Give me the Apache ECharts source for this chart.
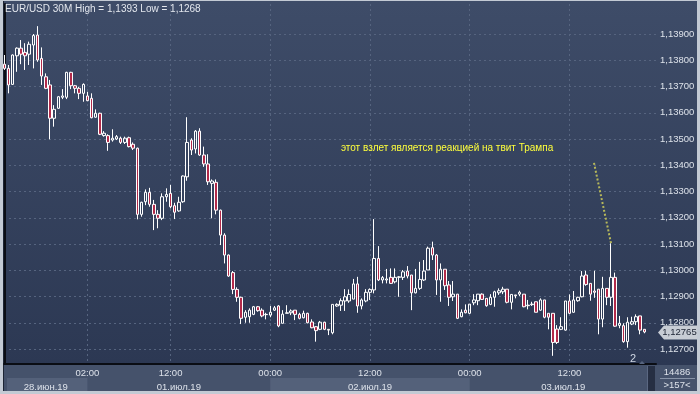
<!DOCTYPE html>
<html><head><meta charset="utf-8">
<script src="https://cdn.jsdelivr.net/npm/echarts@6/dist/echarts.min.js"></script>
<style>html,body{margin:0;padding:0;background:#c3cad4;} #c{width:700px;height:394px;}</style>
</head><body><div id="c"></div>
<script>
const titleText = 'EUR/USD 30M High = 1,1393 Low = 1,1268';
const opens = [1.13785,1.13769,1.13708,1.13817,1.13846,1.13830,1.13823,1.13858,1.13896,1.13807,
1.13737,1.13706,1.13579,1.13617,1.13659,1.13659,1.13754,1.13703,1.13693,1.13674,
1.13664,1.13655,1.13583,1.13598,1.13513,1.13513,1.13496,1.13500,1.13503,1.13487,
1.13505,1.13480,1.13465,1.13213,1.13261,1.13297,1.13251,1.13213,1.13198,1.13280,
1.13293,1.13246,1.13226,1.13261,1.13356,1.13496,1.13462,1.13530,1.13439,1.13405,
1.13331,1.13335,1.13229,1.13134,1.13058,1.12991,1.12927,1.12897,1.12821,1.12823,
1.12832,1.12861,1.12848,1.12831,1.12829,1.12848,1.12864,1.12798,1.12836,1.12838,
1.12848,1.12832,1.12819,1.12836,1.12803,1.12785,1.12775,1.12802,1.12775,1.12762,
1.12864,1.12867,1.12883,1.12883,1.12890,1.12948,1.12864,1.12883,1.12916,1.12925,
1.13045,1.12963,1.12963,1.12973,1.12956,1.12973,1.12973,1.12997,1.12982,1.12914,
1.12931,1.12963,1.13001,1.13086,1.13058,1.12963,1.13004,1.12944,1.12899,1.12909,
1.12823,1.12848,1.12836,1.12876,1.12884,1.12909,1.12893,1.12870,1.12897,1.12914,
1.12918,1.12928,1.12878,1.12906,1.12909,1.12909,1.12867,1.12869,1.12880,1.12848,
1.12887,1.12836,1.12836,1.12776,1.12775,1.12772,1.12883,1.12840,1.12884,1.12899,
1.12982,1.12950,1.12921,1.12928,1.12814,1.12931,1.12897,1.12973,1.12790,1.12789,
1.12728,1.12795,1.12804,1.12826,1.12775];
const closes = [1.13769,1.13706,1.13820,1.13846,1.13823,1.13817,1.13861,1.13894,1.13801,1.13740,
1.13693,1.13579,1.13613,1.13661,1.13664,1.13754,1.13703,1.13693,1.13674,1.13708,
1.13646,1.13581,1.13598,1.13518,1.13522,1.13487,1.13503,1.13509,1.13487,1.13503,
1.13471,1.13465,1.13213,1.13259,1.13297,1.13251,1.13213,1.13198,1.13280,1.13289,
1.13242,1.13221,1.13259,1.13359,1.13487,1.13458,1.13530,1.13439,1.13405,1.13337,
1.13340,1.13229,1.13134,1.13058,1.12978,1.12927,1.12897,1.12817,1.12840,1.12848,
1.12861,1.12846,1.12826,1.12832,1.12840,1.12857,1.12788,1.12833,1.12838,1.12845,
1.12832,1.12817,1.12836,1.12800,1.12781,1.12770,1.12802,1.12775,1.12772,1.12870,
1.12870,1.12884,1.12899,1.12908,1.12948,1.12864,1.12887,1.12916,1.12927,1.13045,
1.12963,1.12972,1.12967,1.12950,1.12973,1.12975,1.12994,1.12978,1.12914,1.12931,
1.12965,1.12997,1.13084,1.13058,1.12963,1.13004,1.12941,1.12897,1.12909,1.12817,
1.12840,1.12838,1.12871,1.12887,1.12909,1.12889,1.12865,1.12897,1.12918,1.12922,
1.12928,1.12878,1.12908,1.12903,1.12916,1.12861,1.12865,1.12871,1.12840,1.12887,
1.12821,1.12821,1.12725,1.12725,1.12785,1.12883,1.12836,1.12887,1.12897,1.12978,
1.12946,1.12909,1.12916,1.12814,1.12931,1.12897,1.12973,1.12787,1.12798,1.12728,
1.12802,1.12804,1.12823,1.12772,1.12765];
const lows = [1.13763,1.13674,1.13706,1.13756,1.13785,1.13763,1.13782,1.13769,1.13794,1.13706,
1.13690,1.13499,1.13547,1.13615,1.13652,1.13652,1.13690,1.13674,1.13652,1.13642,
1.13644,1.13579,1.13581,1.13515,1.13509,1.13455,1.13490,1.13496,1.13481,1.13481,
1.13468,1.13458,1.13194,1.13204,1.13248,1.13242,1.13153,1.13160,1.13191,1.13261,
1.13236,1.13195,1.13223,1.13257,1.13341,1.13439,1.13445,1.13436,1.13394,1.13325,
1.13198,1.13213,1.13096,1.13026,1.12975,1.12909,1.12880,1.12795,1.12800,1.12800,
1.12829,1.12842,1.12821,1.12813,1.12821,1.12845,1.12783,1.12798,1.12836,1.12829,
1.12810,1.12813,1.12817,1.12798,1.12779,1.12728,1.12772,1.12772,1.12753,1.12756,
1.12861,1.12845,1.12845,1.12876,1.12890,1.12838,1.12851,1.12878,1.12887,1.12912,
1.12959,1.12950,1.12950,1.12948,1.12950,1.12899,1.12963,1.12969,1.12848,1.12912,
1.12925,1.12959,1.13001,1.13039,1.12906,1.12880,1.12925,1.12864,1.12883,1.12814,
1.12821,1.12836,1.12833,1.12867,1.12867,1.12887,1.12861,1.12867,1.12861,1.12906,
1.12909,1.12874,1.12851,1.12893,1.12902,1.12859,1.12851,1.12864,1.12840,1.12846,
1.12817,1.12775,1.12674,1.12719,1.12772,1.12770,1.12833,1.12838,1.12880,1.12897,
1.12941,1.12884,1.12895,1.12756,1.12783,1.12867,1.12864,1.12785,1.12779,1.12724,
1.12705,1.12791,1.12791,1.12756,1.12760];
const highs = [1.13820,1.13782,1.13822,1.13849,1.13877,1.13865,1.13871,1.13900,1.13930,1.13849,
1.13750,1.13725,1.13629,1.13664,1.13690,1.13756,1.13756,1.13706,1.13699,1.13712,
1.13680,1.13674,1.13613,1.13600,1.13530,1.13518,1.13537,1.13515,1.13509,1.13509,
1.13509,1.13487,1.13467,1.13261,1.13308,1.13314,1.13268,1.13229,1.13293,1.13312,
1.13325,1.13257,1.13280,1.13361,1.13583,1.13503,1.13534,1.13541,1.13471,1.13442,
1.13346,1.13346,1.13231,1.13141,1.13060,1.12997,1.12935,1.12899,1.12848,1.12855,
1.12864,1.12864,1.12855,1.12838,1.12864,1.12864,1.12867,1.12848,1.12867,1.12851,
1.12848,1.12838,1.12846,1.12838,1.12813,1.12787,1.12807,1.12804,1.12776,1.12870,
1.12874,1.12893,1.12928,1.12927,1.12967,1.12975,1.12893,1.12928,1.12931,1.13195,
1.13092,1.12978,1.13005,1.13007,1.13007,1.12978,1.13001,1.13016,1.12982,1.13005,
1.13032,1.13039,1.13090,1.13109,1.13062,1.13026,1.13004,1.12959,1.12959,1.12909,
1.12851,1.12870,1.12871,1.12909,1.12909,1.12912,1.12893,1.12909,1.12922,1.12931,
1.12937,1.12928,1.12909,1.12906,1.12922,1.12909,1.12887,1.12880,1.12880,1.12893,
1.12887,1.12836,1.12836,1.12791,1.12821,1.12883,1.12908,1.12921,1.12899,1.12997,
1.12998,1.12950,1.12998,1.12928,1.12975,1.12931,1.13103,1.12991,1.12826,1.12798,
1.12821,1.12823,1.12832,1.12826,1.12775];
const priceTicks = [1.127, 1.128, 1.129, 1.130, 1.131, 1.132, 1.133, 1.134, 1.135, 1.136, 1.137, 1.138, 1.139];
const timeTickIdx = [20, 40, 64, 88, 112, 136];
const timeTickLabels = ['02:00', '12:00', '00:00', '12:00', '00:00', '12:00'];
const dayStart = [0, 20, 64, 112];
const dayEnd = [20, 64, 112, 157];
const dayLabels = ['28.июн.19', '01.июл.19', '02.июл.19', '03.июл.19'];
const annotationText = 'этот взлет является реакцией на твит Трампа';
const annotatedBar = 146;
const annotationAnchor = [81, 1.13466];
const annotationLineStart = [141.9, 1.13409];
const volumeLabel = '14486';
const barsLabel = '>157<';
const pageLabel = '2';

const fmt = v => v.toFixed(5).replace('.', ',');
const candleData = opens.map((o, i) => [i, o, closes[i], lows[i], highs[i]]);
const dayCenters = dayStart.map((s, i) => (s + dayEnd[i]) / 2);

const FONT = 'Liberation Sans';
const FS = 9.5;
const LBL = '#dde2ea';
const chart = echarts.init(document.getElementById('c'), null, {renderer: 'canvas'});
const X_MIN = -0.07, X_MAX = 156.82, Y_MIN = 1.126429, Y_MAX = 1.140143;

chart.setOption({
  animation: false,
  grid: {left: 4, top: 4, width: 652, height: 360},
  xAxis: [{
    type: 'value', min: X_MIN, max: X_MAX,
    axisLine: {show: true, onZero: false, lineStyle: {color: '#0a0d14', width: 2}},
    axisTick: {show: false, customValues: timeTickIdx},
    axisLabel: {customValues: timeTickIdx, color: LBL, fontFamily: FONT, fontSize: FS, margin: 4,
      formatter: v => timeTickLabels[timeTickIdx.indexOf(Math.round(v))] || ''},
    splitLine: {show: true, lineStyle: {color: '#56647f', type: [2, 3], width: 1}}
  }, {
    type: 'value', min: X_MIN, max: X_MAX, position: 'bottom', offset: 14,
    axisLine: {show: false}, axisTick: {show: false, customValues: dayCenters}, splitLine: {show: false},
    axisLabel: {customValues: dayCenters, color: LBL, fontFamily: FONT, fontSize: FS, margin: 4,
      formatter: v => dayLabels[dayCenters.indexOf(v)] || ''}
  }],
  yAxis: {
    type: 'value', position: 'right', min: Y_MIN, max: Y_MAX,
    axisLine: {show: true, lineStyle: {color: '#0a0d14', width: 2}},
    axisTick: {show: false, customValues: priceTicks},
    axisLabel: {customValues: priceTicks, color: LBL, fontFamily: FONT, fontSize: FS, margin: 4, formatter: fmt},
    splitLine: {show: true, lineStyle: {color: '#56647f', type: [2, 3], width: 1}}
  },
  series: [{
    type: 'candlestick', xAxisIndex: 0, yAxisIndex: 0,
    data: candleData, encode: {x: 0, y: [1, 2, 3, 4]},
    barWidth: 3,
    itemStyle: {color: 'rgba(0,0,0,0)', color0: '#b22a4a', borderColor: '#ffffff', borderColor0: '#ffffff', borderWidth: 1},
    markLine: {
      silent: true, symbol: 'none', label: {show: false},
      lineStyle: {color: '#b7b85a', type: 'dotted', width: 2},
      data: [[{coord: annotationLineStart}, {coord: [annotatedBar, highs[annotatedBar]]}]]
    }
  }]
});

const px = (i) => chart.convertToPixel({xAxisIndex: 0}, i);
const py = (v) => chart.convertToPixel({yAxisIndex: 0}, v);
const g = [];
const F = FS + 'px "Liberation Sans"';
g.push({type: 'rect', z: -100, shape: {x: 0, y: 0, width: 700, height: 394}, style: {fill: '#c3cad4'}});
g.push({type: 'rect', z: -99, shape: {x: 3, y: 1, width: 694, height: 364},
  style: {fill: new echarts.graphic.LinearGradient(0, 0, 0, 1, [{offset: 0, color: '#3e4c68'}, {offset: 1, color: '#2c3853'}])}});
g.push({type: 'rect', z: -99, shape: {x: 3, y: 365, width: 694, height: 26}, style: {fill: '#45526b'}});
g.push({type: 'line', z: -98, shape: {x1: 3.5, y1: 1, x2: 3.5, y2: 391}, style: {stroke: '#1c2434', lineWidth: 1}});
dayStart.forEach((s, i) => {
  if (i % 2 === 0) {
    const x0 = Math.max(px(s), 7), x1 = Math.min(px(dayEnd[i]), 647);
    g.push({type: 'rect', z: -98, shape: {x: x0, y: 378, width: x1 - x0, height: 13}, style: {fill: '#54617a'}});
  }
});
g.push({type: 'rect', z: -97, shape: {x: 647, y: 366, width: 8, height: 25}, style: {fill: '#262f43'}});
g.push({type: 'line', z: -97, shape: {x1: 647.5, y1: 366, x2: 647.5, y2: 391}, style: {stroke: '#5b6882', lineWidth: 1}});
g.push({type: 'rect', z: -97, shape: {x: 657, y: 365, width: 40, height: 26}, style: {fill: '#45526b'}});
g.push({type: 'line', z: -96, shape: {x1: 660, y1: 378.5, x2: 695, y2: 378.5}, style: {stroke: '#8894a8', lineWidth: 1}});
g.push({type: 'text', z: 50, style: {x: 677, y: 372, text: volumeLabel, fill: LBL, font: F, align: 'center', verticalAlign: 'middle'}});
g.push({type: 'text', z: 50, style: {x: 677, y: 385, text: barsLabel, fill: LBL, font: F, align: 'center', verticalAlign: 'middle'}});
g.push({type: 'text', z: 50, style: {x: 5, y: 9, text: titleText, fill: '#e3e7ee', font: '10px "Liberation Sans"', verticalAlign: 'middle'}});
const ax = px(annotationAnchor[0]), ay = py(annotationAnchor[1]);
g.push({type: 'text', z: 50, style: {x: ax, y: ay, text: annotationText, fill: '#ffff3c', font: '10px "Liberation Sans"', verticalAlign: 'middle'}});
const lastClose = closes[closes.length - 1];
const cy = Math.round(py(lastClose)) + 0.5;
g.push({type: 'polygon', z: 50, shape: {points: [[658, cy], [664, cy - 7], [697, cy - 7], [697, cy + 7], [664, cy + 7]]}, style: {fill: '#c8cdd5'}});
g.push({type: 'text', z: 51, style: {x: 679.5, y: cy, text: fmt(lastClose), fill: '#1c2333', font: F, align: 'center', verticalAlign: 'middle'}});
g.push({type: 'text', z: 50, style: {x: 633, y: 359, text: pageLabel, fill: '#cfd6e2', font: '11px "Liberation Sans"', align: 'center', verticalAlign: 'middle'}});
g.push({type: 'polygon', z: 50, shape: {points: [[639, 364], [642, 361], [645, 364]]}, style: {fill: '#56647f'}});
chart.setOption({graphic: g});
</script></body></html>
